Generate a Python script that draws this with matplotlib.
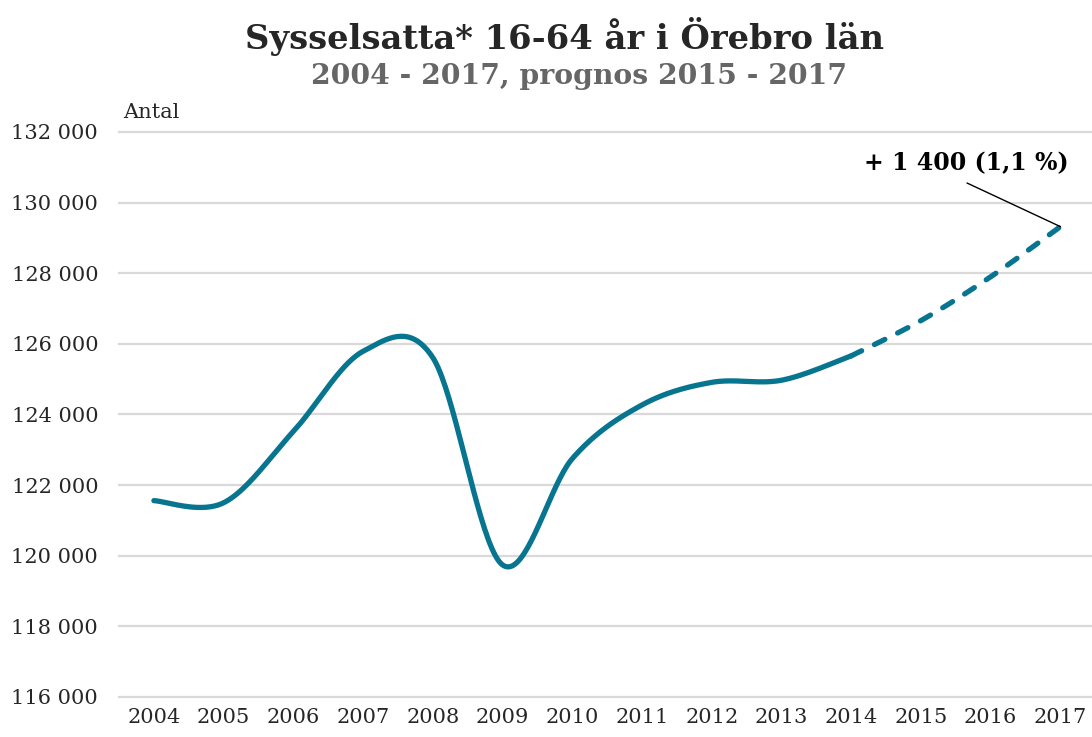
import numpy as np
import matplotlib
matplotlib.use("Agg")
import matplotlib.pyplot as plt

# Data
years_obs = [2004, 2005, 2006, 2007, 2008, 2009, 2010, 2011, 2012, 2013, 2014]
vals_obs = [121560, 121500, 123520, 125790, 125610, 119740, 122750,
            124270, 124910, 124970, 125660]
years_prog = [2014, 2015, 2016, 2017]
vals_prog = [125660, 126660, 127900, 129320]
all_years = list(range(2004, 2018))
y_ticks = [116000, 118000, 120000, 122000, 124000, 126000, 128000, 130000, 132000]

LINE = "#07758f"
GRID = "#d9d9d9"
FONT = "DejaVu Serif"


def smooth(xs, ys, n=40):
    """Catmull-Rom kurva (liknar Excels utjämnade linje)."""
    x = np.asarray(xs, float)
    y = np.asarray(ys, float)
    px = np.concatenate([[x[0]], x, [x[-1]]])
    py = np.concatenate([[y[0]], y, [y[-1]]])
    out_x, out_y = [], []
    t = np.linspace(0, 1, n)
    h00 = 2 * t**3 - 3 * t**2 + 1
    h10 = t**3 - 2 * t**2 + t
    h01 = -2 * t**3 + 3 * t**2
    h11 = t**3 - t**2
    for i in range(1, len(px) - 2):
        mx0 = (px[i + 1] - px[i - 1]) / 2
        mx1 = (px[i + 2] - px[i]) / 2
        my0 = (py[i + 1] - py[i - 1]) / 2
        my1 = (py[i + 2] - py[i]) / 2
        out_x.append(h00 * px[i] + h10 * mx0 + h01 * px[i + 1] + h11 * mx1)
        out_y.append(h00 * py[i] + h10 * my0 + h01 * py[i + 1] + h11 * my1)
    return np.concatenate(out_x), np.concatenate(out_y)


fig = plt.figure(figsize=(10.92, 7.37), dpi=100)
ax = fig.add_axes([0.109, 0.0543, 0.894, 0.7666])

sx, sy = smooth(years_obs, vals_obs)
ax.plot(sx, sy, color=LINE, linewidth=3.8, solid_capstyle="round", zorder=3)
dx, dy = smooth(years_prog, vals_prog)
ax.plot(dx, dy, color=LINE, linewidth=3.8, linestyle=(0, (2.2, 2.7)),
        dash_capstyle="round", zorder=3)

ax.set_xlim(2003.5, 2017.5)
ax.set_ylim(116000, 132000)
ax.set_xticks(all_years)
ax.set_xticklabels([str(y) for y in all_years], fontfamily=FONT, fontsize=15,
                   color="#262626")
ax.set_yticks(y_ticks)
ax.set_yticklabels([f"{v:,}".replace(",", " ") for v in y_ticks],
                   fontfamily=FONT, fontsize=15, color="#262626")
ax.tick_params(length=0, pad=8)
ax.tick_params(axis="y", pad=15)
ax.grid(axis="y", color=GRID, linewidth=1.6)
for gl in ax.get_ygridlines():
    gl.set_clip_on(False)
ax.set_axisbelow(True)
for s in ax.spines.values():
    s.set_visible(False)

# Annotering för prognosen
fig.text(966 / 1092, 1 - 163 / 737, "+ 1 400 (1,1 %)", ha="center",
         va="center", fontfamily=FONT, fontsize=17, fontweight="bold",
         color="black")
ax.annotate("", xy=(years_prog[-1], vals_prog[-1]),
            xytext=(967 / 1092, 1 - 183 / 737), textcoords="figure fraction",
            arrowprops=dict(arrowstyle="-", color="black", linewidth=1.0,
                            shrinkA=0, shrinkB=0))

fig.text(123 / 1092, 1 - 112 / 737, "Antal", ha="left", va="center",
         fontfamily=FONT, fontsize=15, color="#262626")
fig.text(0.517, 1 - 36 / 737, "Sysselsatta* 16-64 år i Örebro län",
         ha="center", va="center", fontfamily=FONT, fontsize=24.3,
         fontweight="bold", color="#262626")
fig.text(0.530, 1 - 77 / 737, "2004 - 2017, prognos 2015 - 2017",
         ha="center", va="center", fontfamily=FONT, fontsize=20.3,
         fontweight="bold", color="#666666")

fig.savefig("out.png", dpi=100)
